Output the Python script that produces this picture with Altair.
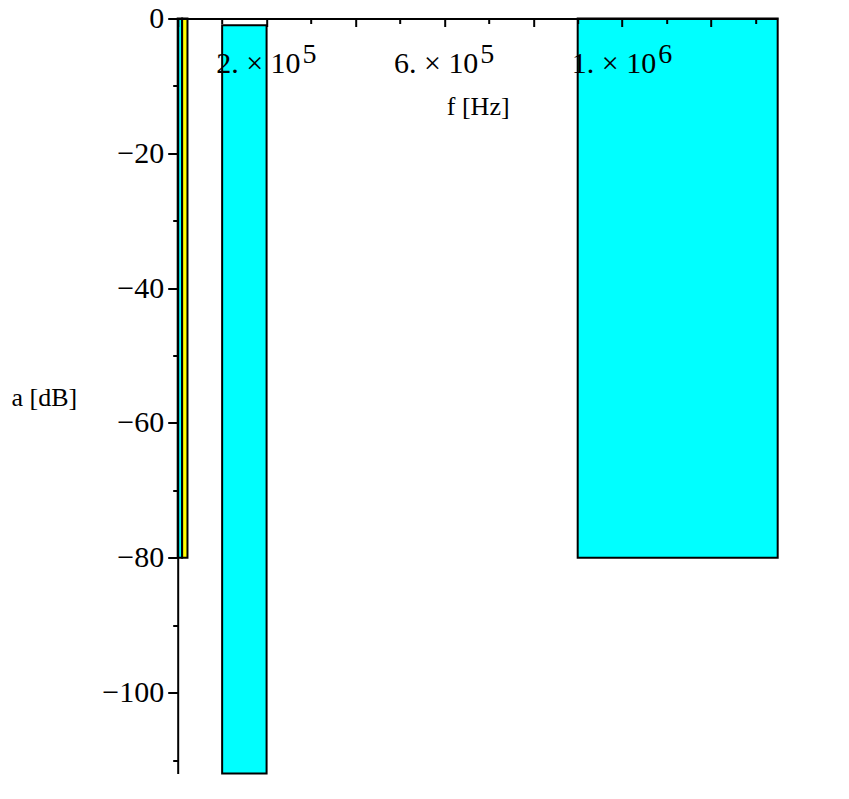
import altair as alt
import pandas as pd

# Rectangles (filter tolerance scheme)
rect_x1 = [0, 10000, 100000, 900000]
rect_x2 = [10000, 22000, 200000, 1350000]
rect_y1 = [0, 0, -1, 0]
rect_y2 = [-80, -80, -112, -80]
rect_fill = ["#00FFFF", "#FFFF00", "#00FFFF", "#00FFFF"]

# x tick labels (mantissa + exponent)
xlab_vals = [200000, 600000, 1000000]
xlab_main = ["2. \u00d7 10", "6. \u00d7 10", "1. \u00d7 10"]
xlab_exp = ["5", "5", "6"]

xticks = [i * 100000 for i in range(0, 14)]
yticks = [0, -10, -20, -30, -40, -50, -60, -70, -80, -90, -100, -110]

W, H = 600, 755
FONT = "Liberation Serif"

rects = pd.DataFrame({"x1": rect_x1, "x2": rect_x2, "y1": rect_y1,
                      "y2": rect_y2, "fill": rect_fill})
labs = pd.DataFrame({"v": xlab_vals, "main": xlab_main, "exp": xlab_exp})

xscale = alt.Scale(domain=[0, 1350000], nice=False, zero=False)
yscale = alt.Scale(domain=[-112, 0], nice=False, zero=False)

xaxis = alt.Axis(
    orient="bottom", offset=-H, values=xticks, labels=False, grid=False,
    domainColor="black", domainWidth=2, tickColor="black", tickWidth=2,
    tickSize={"condition": {"test": "datum.value % 200000 == 0", "value": 8}, "value": 5},
    title="f [Hz]", titleFont=FONT, titleFontSize=26, titleFontWeight="normal",
    titleColor="black", titleX=W / 2, titleY=95.5, titleAlign="center",
    titleBaseline="alphabetic", zindex=1,
)
yaxis = alt.Axis(
    orient="left", values=yticks, grid=False,
    domainColor="black", domainWidth=2, tickColor="black", tickWidth=2,
    tickSize={"condition": {"test": "datum.value % 20 == 0", "value": 10}, "value": 5},
    labelExpr="datum.value % 20 != 0 ? '' : (datum.value == 0 ? '0' : '\u2212' + abs(datum.value))",
    labelFont=FONT, labelFontSize=30, labelColor="black", labelPadding=4,
    labelBaseline="middle",
    title="a [dB]", titleFont=FONT, titleFontSize=26, titleFontWeight="normal",
    titleColor="black", titleAngle=0, titleAlign="left", titleBaseline="middle",
    titleX=-166.7, titleY=379.5, zindex=1,
)

bars = alt.Chart(rects).mark_rect(stroke="black", strokeWidth=2).encode(
    x=alt.X("x1:Q", scale=xscale, axis=xaxis),
    x2="x2:Q",
    y=alt.Y("y1:Q", scale=yscale, axis=yaxis),
    y2="y2:Q",
    fill=alt.Fill("fill:N", scale=None),
)

main_txt = alt.Chart(labs).mark_text(
    align="right", baseline="alphabetic", dx=34, dy=54,
    font=FONT, fontSize=30, color="black",
).encode(x=alt.X("v:Q", scale=xscale), y=alt.datum(0), text="main:N")

exp_txt = alt.Chart(labs).mark_text(
    align="left", baseline="alphabetic", dx=36, dy=44,
    font=FONT, fontSize=28, color="black",
).encode(x=alt.X("v:Q", scale=xscale), y=alt.datum(0), text="exp:N")

chart = alt.layer(bars, main_txt, exp_txt).properties(
    width=W, height=H,
    autosize=alt.AutoSizeParams(type="none"),
    padding={"left": 169.7, "top": 10.5, "right": 50, "bottom": 10},
    background="white",
).configure_view(stroke=None)

chart.save("out.html", embed_options={"renderer": "svg", "actions": False})
